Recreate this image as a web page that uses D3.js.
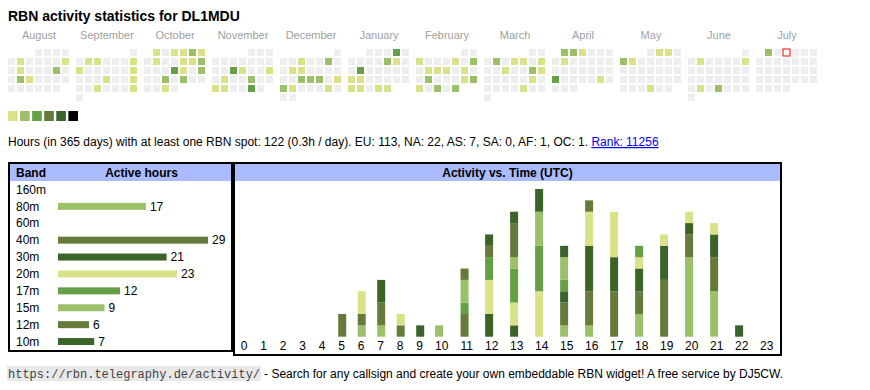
<!DOCTYPE html>
<html>
<head>
<meta charset="utf-8">
<script src="https://cdn.jsdelivr.net/npm/d3@7"></script>
<style>
  body { margin: 0; background: #fff; }
  svg text { font-family: "Liberation Sans", Arial, sans-serif; }
</style>
</head>
<body>
<div id="widget"></div>
<script>
// palette of the activity levels
var levelColors = ["#eeeeee", "#dae289", "#9cc06a", "#66a046", "#667b3b", "#3a6428", "#000000"];

// months shown in the calendar
var monthNames = ["August", "September", "October", "November", "December", "January",
                  "February", "March", "April", "May", "June", "July"];
var monthStarts = ["2024-08-01", "2024-09-01", "2024-10-01", "2024-11-01", "2024-12-01", "2025-01-01",
                   "2025-02-01", "2025-03-01", "2025-04-01", "2025-05-01", "2025-06-01", "2025-07-01"];
var today = "2025-07-03";

// days with at least one spot: [date, level]
var activeDays = [
    ["2024-08-06", 1], ["2024-08-11", 1], ["2024-08-13", 1], ["2024-08-17", 2], ["2024-08-20", 2], ["2024-08-21", 1],
    ["2024-09-03", 1], ["2024-09-04", 1], ["2024-09-08", 1], ["2024-09-09", 1], ["2024-09-15", 1], ["2024-09-19", 1],
    ["2024-09-22", 1], ["2024-09-25", 1], ["2024-09-29", 1],
    ["2024-10-01", 1], ["2024-10-03", 1], ["2024-10-04", 1], ["2024-10-05", 2], ["2024-10-06", 1], ["2024-10-08", 1],
    ["2024-10-11", 1], ["2024-10-12", 1], ["2024-10-13", 2], ["2024-10-17", 3], ["2024-10-18", 1], ["2024-10-20", 2],
    ["2024-10-23", 2], ["2024-10-25", 2], ["2024-10-30", 1],
    ["2024-11-13", 3], ["2024-11-14", 1], ["2024-11-17", 1], ["2024-11-19", 1], ["2024-11-22", 2], ["2024-11-25", 1],
    ["2024-11-26", 1], ["2024-11-29", 3],
    ["2024-12-04", 1], ["2024-12-07", 2], ["2024-12-10", 1], ["2024-12-11", 1], ["2024-12-18", 2], ["2024-12-19", 2],
    ["2024-12-20", 2], ["2024-12-22", 1], ["2024-12-23", 2], ["2024-12-24", 1], ["2024-12-28", 1],
    ["2025-01-04", 3], ["2025-01-10", 2], ["2025-01-11", 1], ["2025-01-14", 3], ["2025-01-20", 1], ["2025-01-21", 1],
    ["2025-01-27", 1], ["2025-01-28", 1], ["2025-01-30", 1], ["2025-01-31", 1],
    ["2025-02-03", 1], ["2025-02-07", 1], ["2025-02-09", 2], ["2025-02-11", 1], ["2025-02-12", 1], ["2025-02-13", 1],
    ["2025-02-15", 1], ["2025-02-18", 2], ["2025-02-22", 1], ["2025-02-23", 2], ["2025-02-24", 1], ["2025-02-26", 2],
    ["2025-02-28", 2],
    ["2025-03-04", 2], ["2025-03-06", 1], ["2025-03-07", 1], ["2025-03-09", 1], ["2025-03-12", 1], ["2025-03-15", 2],
    ["2025-03-16", 1], ["2025-03-22", 1], ["2025-03-28", 1],
    ["2025-04-01", 2], ["2025-04-02", 2], ["2025-04-03", 1], ["2025-04-08", 1], ["2025-04-21", 3], ["2025-04-26", 1],
    ["2025-05-02", 1], ["2025-05-03", 1], ["2025-05-05", 2], ["2025-05-06", 1], ["2025-05-29", 1],
    ["2025-06-03", 1], ["2025-06-08", 1], ["2025-06-24", 1], ["2025-06-26", 2],
    ["2025-07-01", 2]
];

// band table
var bands = ["160m", "80m", "60m", "40m", "30m", "20m", "17m", "15m", "12m", "10m"];
var bandHours = [0, 17, 0, 29, 21, 23, 12, 9, 6, 7];
var bandColors = ["#dae289", "#9cc06a", "#66a046", "#667b3b", "#3a6428",
                  "#dae289", "#66a046", "#9cc06a", "#667b3b", "#3a6428"];

// activity per UTC hour, one list per band
var hourLabels = ["0","1","2","3","4","5","6","7","8","9","10","11","12","13","14","15","16","17","18","19","20","21","22","23"];
var hourly160 = [0,0,0,0,0,0,0,0,0,0,0,0,0,0,0,0,0,0,0,0,0,0,0,0];
var hourly80  = [0,0,0,0,0,0,1,1,0,0,0,0,0,0,0,1,1,0,2,0,7,4,0,0];
var hourly60  = [0,0,0,0,0,0,0,0,0,0,0,0,0,0,0,0,0,0,0,0,0,0,0,0];
var hourly40  = [0,0,0,0,0,2,1,2,1,0,0,2,0,0,0,2,3,4,2,5,2,3,0,0];
var hourly30  = [0,0,0,0,0,0,0,2,0,0,0,0,2,1,0,1,4,3,2,3,1,2,0,0];
var hourly20  = [0,0,0,0,0,0,2,0,1,0,0,0,3,2,4,0,3,4,1,1,1,1,0,0];
var hourly17  = [0,0,0,0,0,0,0,0,0,0,0,1,2,3,4,1,0,0,1,0,0,0,0,0];
var hourly15  = [0,0,0,0,0,0,0,0,0,0,1,2,0,1,3,2,0,0,0,0,0,0,0,0];
var hourly12  = [0,0,0,0,0,0,0,0,0,0,0,1,1,3,0,0,1,0,0,0,0,0,0,0];
var hourly10  = [0,0,0,0,0,0,0,0,0,1,0,0,1,1,2,1,0,0,0,0,0,0,1,0];
var hourlyByBand = [hourly160, hourly80, hourly60, hourly40, hourly30, hourly20, hourly17, hourly15, hourly12, hourly10];

var svg = d3.select("#widget").append("svg")
    .attr("width", 870)
    .attr("height", 390);

//Title
svg.append("text")
    .attr("x", 8)
    .attr("y", 21)
    .style("font-size", "14px")
    .style("font-weight", "bold")
    .text("RBN activity statistics for DL1MDU");

//Calendar: one block per month, weekdays in columns and weeks in rows
var parse = d3.timeParse("%Y-%m-%d");
var fmt = d3.timeFormat("%Y-%m-%d");
var levelByDay = new Map(activeDays);

var monthX = d3.scaleLinear().domain([0, 12]).range([8, 8 + 68 * 12]);
var colX = d3.scaleBand().domain(d3.range(7)).range([0, 61]).paddingInner(2 / 9);
var rowY = d3.scaleBand().domain(d3.range(6)).range([49, 101]).paddingInner(2 / 9);
var weekday = function(date) { return (date.getDay() + 6) % 7; };

var cal = svg.append("g").attr("class", "calendar");

monthStarts.forEach(function(ms, m) {
    var first = parse(ms);
    var days = d3.timeDays(first, d3.timeMonth.offset(first, 1));
    var offset = weekday(first);

    cal.append("text")
        .attr("x", monthX(m) + 31)
        .attr("y", 38.5)
        .attr("text-anchor", "middle")
        .style("font-size", "11px")
        .style("fill", "#a0a0a0")
        .text(monthNames[m]);

    cal.append("g")
        .selectAll("rect")
        .data(days)
        .enter()
        .append("rect")
        .attr("x", function(d) { return monthX(m) + colX(weekday(d)); })
        .attr("y", function(d) { return rowY(Math.floor((d.getDate() - 1 + offset) / 7)); })
        .attr("width", colX.bandwidth())
        .attr("height", rowY.bandwidth())
        .style("fill", function(d) {
            var key = fmt(d);
            if (key === today) { return "#ffffff"; }
            return levelColors[levelByDay.get(key) || 0];
        })
        .style("stroke", function(d) { return fmt(d) === today ? "#ff0000" : "none"; })
        .style("stroke-width", 1);
});

//Legend of levels
var legendX = d3.scaleBand().domain(d3.range(1, 7)).range([8, 78]).paddingInner(0.2);
svg.append("g")
    .selectAll("rect")
    .data(d3.range(1, 7))
    .enter()
    .append("rect")
    .attr("x", function(d) { return legendX(d); })
    .attr("y", 111)
    .attr("width", legendX.bandwidth())
    .attr("height", 10)
    .style("fill", function(d) { return levelColors[d]; });

//Summary line
var summary = svg.append("text")
    .attr("x", 8)
    .attr("y", 146)
    .style("font-size", "12px")
    .style("fill", "#000");
summary.append("tspan")
    .text("Hours (in 365 days) with at least one RBN spot: 122 (0.3h / day). EU: 113, NA: 22, AS: 7, SA: 0, AF: 1, OC: 1. ");
summary.append("tspan")
    .style("fill", "#0000ee")
    .style("text-decoration", "underline")
    .text("Rank: 11256");

//Band table
var header = "#aabbff";
var bandBox = svg.append("g");
bandBox.append("rect")
    .attr("x", 9).attr("y", 163).attr("width", 223).attr("height", 188)
    .style("fill", "#fff").style("stroke", "#000").style("stroke-width", 2);
bandBox.append("rect")
    .attr("x", 10).attr("y", 164).attr("width", 221).attr("height", 17)
    .style("fill", header);
bandBox.append("text")
    .attr("x", 16).attr("y", 177)
    .style("font-size", "12px").style("font-weight", "bold")
    .text("Band");
bandBox.append("text")
    .attr("x", 141.5).attr("y", 177)
    .attr("text-anchor", "middle")
    .style("font-size", "12px").style("font-weight", "bold")
    .text("Active hours");

var bandY = d3.scaleBand().domain(bands).range([181, 350]);
var hoursX = d3.scaleLinear().domain([0, d3.max(bandHours)]).range([58, 208]);

var rows = bandBox.selectAll(".bandRow")
    .data(bands)
    .enter()
    .append("g")
    .attr("class", "bandRow")
    .attr("transform", function(d) { return "translate(0," + (bandY(d) + bandY.bandwidth() / 2) + ")"; });

rows.append("text")
    .attr("x", 16)
    .attr("y", 4.2)
    .style("font-size", "12px")
    .text(function(d) { return d; });

rows.filter(function(d, i) { return bandHours[i] > 0; })
    .append("rect")
    .attr("x", hoursX(0))
    .attr("y", -3.5)
    .attr("width", function(d) { return hoursX(bandHours[bands.indexOf(d)]) - hoursX(0); })
    .attr("height", 7)
    .style("fill", function(d) { return bandColors[bands.indexOf(d)]; });

rows.filter(function(d, i) { return bandHours[i] > 0; })
    .append("text")
    .attr("x", function(d) { return hoursX(bandHours[bands.indexOf(d)]) + 4; })
    .attr("y", 4.2)
    .style("font-size", "12px")
    .text(function(d) { return bandHours[bands.indexOf(d)]; });

//Activity vs time box
var timeBox = svg.append("g");
timeBox.append("rect")
    .attr("x", 234).attr("y", 163).attr("width", 547).attr("height", 192)
    .style("fill", "#fff").style("stroke", "#000").style("stroke-width", 2);
timeBox.append("rect")
    .attr("x", 235).attr("y", 164).attr("width", 545).attr("height", 17)
    .style("fill", header);
timeBox.append("text")
    .attr("x", 507.5).attr("y", 177)
    .attr("text-anchor", "middle")
    .style("font-size", "12px").style("font-weight", "bold")
    .text("Activity vs. Time (UTC)");

// table-like columns: wider for two digit hours
var centers = [];
var cursor = 234.3;
hourLabels.forEach(function(h) {
    var w = h.length > 1 ? 25 : 19.5;
    centers.push(cursor + w / 2);
    cursor += w;
});
var hourX = d3.scaleOrdinal().domain(hourLabels).range(centers);

var hourText = timeBox.append("g")
    .selectAll("text")
    .data(hourLabels)
    .enter()
    .append("text")
    .attr("x", function(d) { return hourX(d); })
    .attr("y", 349.5)
    .attr("text-anchor", "middle")
    .style("font-size", "12px")
    .text(function(d) { return d; });

// bars start at the left edge of their label
var labelLeft = {};
hourText.each(function(d) {
    labelLeft[d] = hourX(d) - this.getComputedTextLength() / 2;
});

var table = hourLabels.map(function(h, i) {
    var row = {hour: h};
    bands.forEach(function(b, j) { row[b] = hourlyByBand[j][i]; });
    return row;
});
var series = d3.stack().keys(bands)(table);

var countY = d3.scaleLinear()
    .domain([0, d3.max(series[series.length - 1], function(d) { return d[1]; })])
    .range([336.7, 189]);

timeBox.append("g")
    .selectAll("g")
    .data(series)
    .enter()
    .append("g")
    .style("fill", function(d, i) { return bandColors[i]; })
    .selectAll("rect")
    .data(function(d) { return d.filter(function(s) { return s[1] > s[0]; }); })
    .enter()
    .append("rect")
    .attr("x", function(d) { return labelLeft[d.data.hour]; })
    .attr("y", function(d) { return countY(d[1]); })
    .attr("width", 8)
    .attr("height", function(d) { return countY(d[0]) - countY(d[1]); });

//Footer
var footer = svg.append("g");
var urlBg = footer.append("rect")
    .attr("x", 7)
    .attr("y", 366)
    .attr("height", 15)
    .style("fill", "#e8e8e8");
var urlText = footer.append("text")
    .attr("x", 8)
    .attr("y", 378)
    .style("font-family", "'Liberation Mono', 'Courier New', monospace")
    .style("font-size", "12px")
    .style("fill", "#444")
    .text("https://rbn.telegraphy.de/activity/");
var urlWidth = urlText.node().getComputedTextLength();
urlBg.attr("width", urlWidth + 2);
footer.append("text")
    .attr("x", 8 + urlWidth + 4)
    .attr("y", 378)
    .style("font-size", "12px")
    .text("- Search for any callsign and create your own embeddable RBN widget! A free service by DJ5CW.");
</script>
</body>
</html>
